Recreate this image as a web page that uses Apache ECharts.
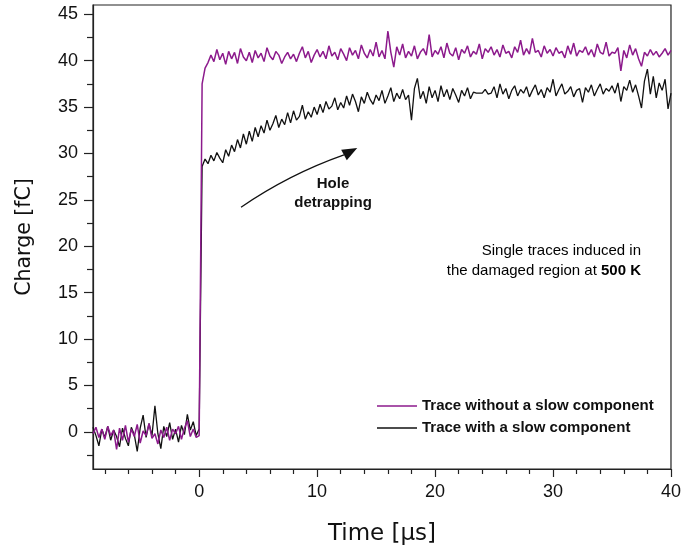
<!DOCTYPE html>
<html><head><meta charset="utf-8">
<script src="https://cdn.jsdelivr.net/npm/echarts@6/dist/echarts.min.js"></script>
<style>html,body{margin:0;padding:0;background:#fff}#c{width:684px;height:551px}</style>
</head><body><div id="c"></div>
<script>
// sample grid of the oscilloscope traces (µs)
const T0 = -9, DT = 0.25;

// Trace without a slow component (fC), one value per sample, t = -9 .. 40
const tracePurple = [
  -0.2, 0.5, -0.6, 0.3, -0.8, 0.6, -0.4, 0.2, -1.9, 0.4,
  -0.9, 0.7, -1.1, 0.3, -0.5, 0.8, -1.2, 0.1, -0.4, 0.9,
  -0.7, -0.2, -1.3, 0.2, -0.6, 0.5, -0.9, 0.3, -0.2, 0.6,
  -0.8, 0.4, 1.2, -0.5, 0.3, -0.6, -0.4,
  37.5, 39.2, 39.8, 40.6, 39.9, 41.2, 40.1, 40.8, 39.6, 41.0,
  40.2, 40.9, 39.7, 41.3, 40.4, 40.0, 40.9, 39.8, 41.1, 40.3,
  40.8, 39.9, 41.4, 40.5, 40.1, 41.0, 40.6, 39.7, 40.4, 40.9,
  40.2, 40.7, 39.9, 40.8, 41.5, 40.3, 41.0, 39.8, 40.6, 41.2,
  40.4, 41.0, 40.2, 41.6, 40.5, 40.9, 40.1, 41.3, 40.7, 40.0,
  41.4, 40.6, 41.1, 40.2, 41.7, 40.8, 40.3, 41.2, 40.5, 42.0,
  40.4, 41.1, 40.2, 43.2, 40.9, 39.3, 41.5, 40.6, 41.8, 40.3,
  41.0, 40.5, 41.6, 40.2, 40.9, 41.3, 40.6, 42.8, 40.4, 41.1,
  40.7, 41.5, 40.3, 41.9, 40.8, 40.5, 41.4, 40.1, 41.2, 40.8,
  41.6, 40.4, 41.0, 40.7, 41.8, 40.2, 41.3, 40.9, 41.5, 40.6,
  41.2, 40.4, 41.7, 40.8, 41.0, 40.3, 41.5, 40.9, 42.2, 40.6,
  41.3, 40.7, 42.4, 40.9, 41.1, 40.4, 41.6, 40.8, 41.2, 40.5,
  41.4, 40.8, 41.0, 40.3, 41.6, 40.7, 41.9, 40.5, 41.1, 40.9,
  41.5, 40.6, 41.2, 40.4, 41.8, 40.9, 40.7, 42.0, 40.5, 40.9,
  40.8, 41.4, 38.9, 41.1, 40.3, 41.7, 40.6, 41.3, 40.2, 39.4,
  40.9, 40.5, 41.2, 40.6, 41.0, 40.4, 40.8, 41.3, 40.6, 41.1
];

// Trace with a slow component (fC), t = -9 .. 40
const traceBlack = [
  0.5, -0.4, -1.5, 0.3, -0.6, 0.6, -0.9, 0.2, -0.5, -1.6,
  0.4, -0.7, -1.5, 0.5, -0.3, -2.1, 0.4, 1.8, -0.6, 0.9,
  -0.4, 2.8, -0.2, -1.8, 0.6, -0.5, 1.0, -0.8, 0.3, -1.1,
  0.7, -0.3, 1.9, 0.2, 1.1, -0.4, 0.3,
  28.6, 29.4, 28.9, 29.8, 29.2, 30.1, 29.5, 29.0, 30.4, 29.7,
  30.9, 30.2, 31.5, 30.6, 32.1, 31.0, 32.4, 31.3, 32.8, 31.8,
  33.0, 32.2, 33.6, 32.5, 33.2, 34.1, 32.8, 33.7, 33.1, 34.4,
  33.3, 34.6, 33.6, 34.0, 35.2, 33.7, 34.5, 33.9, 35.0, 34.2,
  35.3, 34.4, 35.6, 34.8, 35.1, 36.0, 34.7, 35.5, 34.9, 36.2,
  35.2, 36.4, 35.6, 34.5, 36.1, 35.4, 36.6, 35.8, 35.3, 36.3,
  35.7, 36.8, 35.4, 36.2, 37.1, 35.6, 36.5, 35.9, 36.9, 35.8,
  36.3, 33.6, 37.0, 38.1, 35.9, 36.7, 35.4, 37.2, 36.0, 36.8,
  35.6, 37.3, 36.1, 36.9, 35.8, 37.0, 36.3, 35.5, 36.8, 36.2,
  37.1, 35.9, 36.6, 36.5, 36.5, 36.5, 36.9, 36.4, 36.5, 37.2,
  36.0, 37.5, 36.4, 37.0, 35.9, 36.8, 37.3, 36.2, 36.9, 36.5,
  37.2, 36.1, 36.8, 37.4, 36.3, 36.9, 36.0, 37.1, 36.6, 38.0,
  36.2, 36.9, 37.5, 36.4, 36.7, 37.2, 36.1, 36.8, 37.0, 35.5,
  37.1, 36.6, 37.4, 36.2, 36.9, 37.5, 36.4, 37.0, 36.7, 37.3,
  36.5, 37.6, 35.6, 37.2, 36.8, 37.9, 36.6, 37.4, 36.2, 34.9,
  37.8, 39.1, 36.4, 38.3, 36.0, 37.6, 36.8, 38.0, 34.8, 36.5
];

const seriesNames = ['Trace without a slow component', 'Trace with a slow component'];
const xMajor = [0, 10, 20, 30, 40];
const xMinor = [-8, -6, -4, -2, 2, 4, 6, 8, 12, 14, 16, 18, 22, 24, 26, 28, 32, 34, 36, 38];
const yMajor = [0, 5, 10, 15, 20, 25, 30, 35, 40, 45];
const yMinor = [-2.5, 2.5, 7.5, 12.5, 17.5, 22.5, 27.5, 32.5, 37.5, 42.5];

const toPairs = arr => arr.map((v, i) => [T0 + i * DT, v]);

const AX = '#222';
const tickFont = { fontFamily: 'Liberation Sans', fontSize: 18, color: '#111' };

const chart = echarts.init(document.getElementById('c'), null, { renderer: 'canvas' });
const option = {
  animation: false,
  backgroundColor: '#fff',
  grid: { left: 93, top: 5, right: 12, bottom: 81, show: true, borderColor: AX, borderWidth: 1.2, backgroundColor: 'transparent' },
  legend: {
    data: seriesNames, orient: 'vertical', left: 372, top: 393, icon: 'rect',
    itemWidth: 40, itemHeight: 1.3, itemGap: 6,
    textStyle: { fontFamily: 'Liberation Sans', fontWeight: 'bold', fontSize: 15, lineHeight: 16, color: '#111' }
  },
  xAxis: [
    {
      type: 'value', min: -9, max: 40, position: 'bottom',
      name: 'Time [µs]', nameLocation: 'middle', nameGap: 54,
      nameTextStyle: { fontFamily: 'DejaVu Sans', fontSize: 23, color: '#111' },
      axisLine: { onZero: false, lineStyle: { color: AX, width: 1.2 } },
      axisTick: { customValues: xMajor, length: 8, lineStyle: { color: AX, width: 1.2 } },
      axisLabel: Object.assign({ customValues: xMajor, margin: 14 }, tickFont),
      splitLine: { show: false }
    },
    {
      type: 'value', min: -9, max: 40, position: 'bottom',
      axisLine: { show: false, onZero: false },
      axisTick: { customValues: xMinor, length: 5, lineStyle: { color: AX, width: 1.2 } },
      axisLabel: { show: false }, splitLine: { show: false }
    }
  ],
  yAxis: [
    {
      type: 'value', min: -4, max: 46, position: 'left',
      name: 'Charge [fC]', nameLocation: 'middle', nameGap: 58,
      nameTextStyle: { fontFamily: 'DejaVu Sans', fontSize: 20.5, color: '#111' },
      axisLine: { onZero: false, lineStyle: { color: AX, width: 1.2 } },
      axisTick: { customValues: yMajor, length: 9, lineStyle: { color: AX, width: 1.2 } },
      axisLabel: Object.assign({ customValues: yMajor, margin: 15 }, tickFont),
      splitLine: { show: false }
    },
    {
      type: 'value', min: -4, max: 46, position: 'left',
      axisLine: { show: false, onZero: false },
      axisTick: { customValues: yMinor, length: 6, lineStyle: { color: AX, width: 1.2 } },
      axisLabel: { show: false }, splitLine: { show: false }
    }
  ],
  series: [
    {
      name: seriesNames[1], type: 'line', data: toPairs(traceBlack),
      xAxisIndex: 0, yAxisIndex: 0, symbol: 'none', color: '#111',
      lineStyle: { width: 1.3, color: '#111' }
    },
    {
      name: seriesNames[0], type: 'line', data: toPairs(tracePurple),
      xAxisIndex: 0, yAxisIndex: 0, symbol: 'none', color: '#8c1a8c',
      lineStyle: { width: 1.5, color: '#8c1a8c' }
    }
  ]
};
chart.setOption(option);

// annotations anchored in data coordinates
const px = (x, y) => chart.convertToPixel({ xAxisIndex: 0, yAxisIndex: 0 }, [x, y]);
const arrowStart = px(3.55, 24.2);
const arrowTip = px(13.4, 30.6);
const holeLabel = px(11.35, 25.7);
const noteAnchor = px(37.46, 18.4);

const ang = 28 * Math.PI / 180, headLen = 15, headHalf = 6;
const d = [Math.cos(ang), -Math.sin(ang)];
const n = [Math.sin(ang), Math.cos(ang)];
const base = [arrowTip[0] - headLen * d[0], arrowTip[1] - headLen * d[1]];
const cp = [arrowStart[0] + 48, arrowStart[1] - 33];

chart.setOption({
  graphic: [
    {
      type: 'bezierCurve', silent: true,
      shape: { x1: arrowStart[0], y1: arrowStart[1], x2: base[0], y2: base[1], cpx1: cp[0], cpy1: cp[1] },
      style: { stroke: '#111', lineWidth: 1.3, fill: null }
    },
    {
      type: 'polygon', silent: true,
      shape: { points: [arrowTip, [base[0] + headHalf * n[0], base[1] + headHalf * n[1]], [base[0] - headHalf * n[0], base[1] - headHalf * n[1]]] },
      style: { fill: '#111' }
    },
    {
      type: 'text', silent: true, x: holeLabel[0], y: holeLabel[1],
      style: { text: 'Hole\ndetrapping', align: 'center', verticalAlign: 'middle', lineHeight: 19,
        font: 'bold 15px "Liberation Sans"', fill: '#111' }
    },
    {
      type: 'text', silent: true, x: noteAnchor[0], y: noteAnchor[1],
      style: {
        text: '{r|Single traces induced in}\n{r|the damaged region at }{b|500 K}',
        align: 'right', verticalAlign: 'middle',
        rich: {
          r: { fontFamily: 'Liberation Sans', fontSize: 15, color: '#111', lineHeight: 20 },
          b: { fontFamily: 'Liberation Sans', fontSize: 15, fontWeight: 'bold', color: '#111', lineHeight: 20 }
        }
      }
    }
  ]
});
</script>
</body></html>
